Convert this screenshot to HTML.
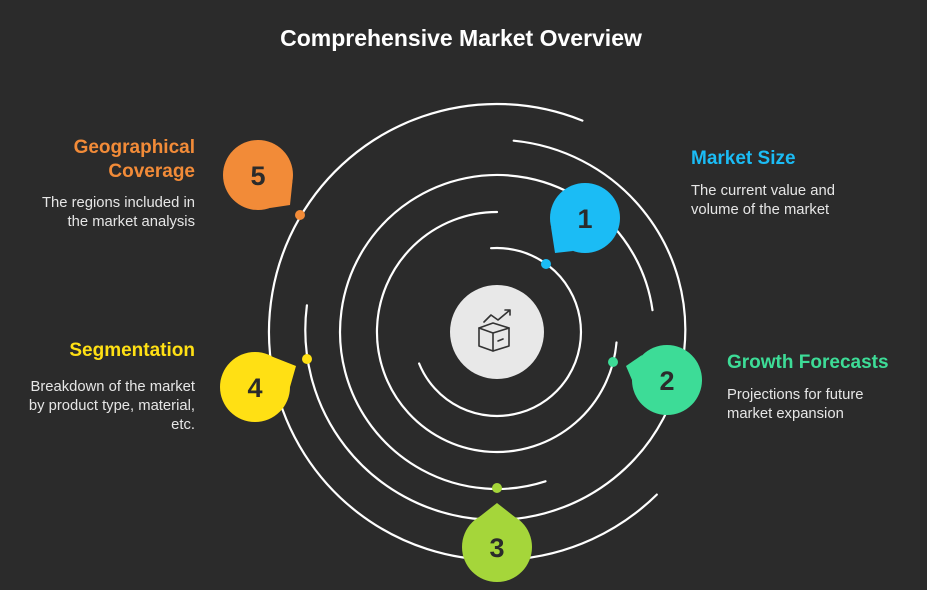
<!DOCTYPE html>
<html><head><style>
body{margin:0;background:#2b2b2b;}
svg{display:block;font-family:"Liberation Sans",sans-serif;}
</style></head><body>
<svg width="927" height="590" viewBox="0 0 927 590">
<rect width="927" height="590" fill="#2b2b2b"/>
<text x="461" y="46" fill="#fff" font-size="23" font-weight="bold" text-anchor="middle">Comprehensive Market Overview</text>
<g fill="none" stroke="#fff" stroke-width="2.2" stroke-linecap="round">
<path d="M491.1 248.2 A84 84 0 1 1 419.1 363.5"/>
<path d="M616.5 342.5 A120 120 0 1 1 497 212"/>
<path d="M545.5 481.3 A157 157 0 1 1 652.5 310.2"/>
<path d="M513.7 140.7 A190 190 0 1 1 306.9 305.3"/>
<path d="M656.8 494.6 A228 228 0 1 1 582.4 120.6"/>
</g>
<circle cx="497" cy="332" r="47" fill="#e8e8e8"/>
<g fill="none" stroke="#333" stroke-width="1.6" stroke-linejoin="round" stroke-linecap="round">
<path d="M479 328 L493 323 L509 328 L509 346 L493 351 L479 346 Z"/>
<path d="M479 328 L493 333 L509 328 M493 333 V351"/>
<path d="M498 341 L503 339"/>
<path d="M484 322 L491 315 L498 320 L510 310 M505 310 H510 V315"/>
</g>
<g>
<circle cx="546" cy="264" r="5" fill="#1bbcf5"/>
<circle cx="613" cy="362" r="5" fill="#3ddc97"/>
<circle cx="497" cy="488" r="5" fill="#a5d63a"/>
<circle cx="307" cy="359" r="5" fill="#ffe014"/>
<circle cx="300" cy="215" r="5" fill="#f28b38"/>
</g>
<g font-size="27" font-weight="bold" text-anchor="middle" fill="#2b2b2b">
<circle cx="585" cy="218" r="35" fill="#1bbcf5"/><polygon points="573,251 551,227 555,253" fill="#1bbcf5"/>
<text x="585" y="228">1</text>
<circle cx="667" cy="380" r="35" fill="#3ddc97"/><polygon points="632,380 642,355 626,366" fill="#3ddc97"/>
<text x="667" y="390">2</text>
<circle cx="497" cy="547" r="35" fill="#a5d63a"/><polygon points="479.5,516.7 514.5,516.7 497,503" fill="#a5d63a"/>
<text x="497" y="557">3</text>
<circle cx="255" cy="387" r="35" fill="#ffe014"/><polygon points="272.5,356.7 290,387 296,366" fill="#ffe014"/>
<text x="255" y="397">4</text>
<circle cx="258" cy="175" r="35" fill="#f28b38"/><polygon points="292.5,181 270,208 290,205" fill="#f28b38"/>
<text x="258" y="185">5</text>
</g>
<g font-size="19" font-weight="bold">
<text x="691" y="164" fill="#1bbcf5">Market Size</text>
<text x="727" y="368" fill="#3ddc97">Growth Forecasts</text>
<text x="195" y="153" fill="#f28b38" text-anchor="end">Geographical</text>
<text x="195" y="177" fill="#f28b38" text-anchor="end">Coverage</text>
<text x="195" y="356" fill="#ffe014" text-anchor="end">Segmentation</text>
</g>
<g font-size="14.8" fill="#e6e6e6">
<text x="691" y="195">The current value and</text>
<text x="691" y="214">volume of the market</text>
<text x="727" y="399">Projections for future</text>
<text x="727" y="418">market expansion</text>
<g text-anchor="end">
<text x="195" y="207">The regions included in</text>
<text x="195" y="226">the market analysis</text>
<text x="195" y="391">Breakdown of the market</text>
<text x="195" y="410">by product type, material,</text>
<text x="195" y="429">etc.</text>
</g>
</g>
</svg>
</body></html>
